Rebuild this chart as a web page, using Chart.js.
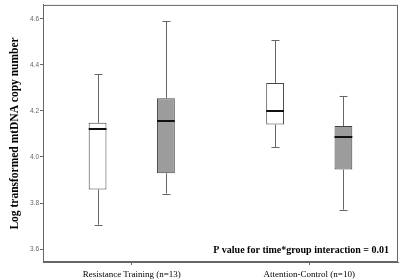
<!DOCTYPE html>
<html>
<head>
<meta charset="utf-8">
<script src="https://cdn.jsdelivr.net/npm/chart.js@4"></script>
<style>
  html, body { margin: 0; padding: 0; background: #fff; }
  #wrap { width: 400px; height: 279px; position: relative; }
</style>
</head>
<body>
<div id="wrap"><canvas id="box"></canvas></div>
<script>
// categories and tick labels
const categories = ['Resistance Training (n=13)', 'Attention-Control (n=10)'];
const yTickValues = [3.6, 3.8, 4.0, 4.2, 4.4, 4.6];

// box values, first series (white boxes)
const preMin = [3.706, 4.043];
const preQ1 = [3.859, 4.141];
const preMedian = [4.121, 4.200];
const preQ3 = [4.148, 4.321];
const preMax = [4.360, 4.507];

// second series (grey boxes)
const postMin = [3.841, 3.771];
const postQ1 = [3.929, 3.945];
const postMedian = [4.156, 4.086];
const postQ3 = [4.255, 4.134];
const postMax = [4.590, 4.265];

const noteText = 'P value for time*group interaction = 0.01';

const stats = [
    { min: preMin, med: preMedian, max: preMax },
    { min: postMin, med: postMedian, max: postMax }
];

// whiskers, medians, frame, note
const boxExtras = {
    id: 'boxExtras',
    afterDatasetsDraw(chart) {
        const { ctx, chartArea, scales } = chart;
        const y = scales.y;
        ctx.save();
        stats.forEach((s, di) => {
            const meta = chart.getDatasetMeta(di);
            meta.data.forEach((bar, i) => {
                const x = Math.round(bar.x) + 0.5;
                const half = bar.width / 2;
                const ds = chart.data.datasets[di].data[i];
                const yLo = y.getPixelForValue(ds[0]);
                const yHi = y.getPixelForValue(ds[1]);
                const yMin = y.getPixelForValue(s.min[i]);
                const yMax = y.getPixelForValue(s.max[i]);
                ctx.strokeStyle = '#666';
                ctx.lineWidth = 1;
                ctx.beginPath();
                ctx.moveTo(x, yHi); ctx.lineTo(x, yMax);
                ctx.moveTo(x, yLo); ctx.lineTo(x, yMin);
                ctx.moveTo(x - 4, Math.round(yMax) + 0.5); ctx.lineTo(x + 4, Math.round(yMax) + 0.5);
                ctx.moveTo(x - 4, Math.round(yMin) + 0.5); ctx.lineTo(x + 4, Math.round(yMin) + 0.5);
                ctx.stroke();
                const yMed = Math.round(y.getPixelForValue(s.med[i]));
                ctx.strokeStyle = '#111';
                ctx.lineWidth = 2;
                ctx.beginPath();
                ctx.moveTo(bar.x - half, yMed); ctx.lineTo(bar.x + half, yMed);
                ctx.stroke();
            });
        });
        ctx.strokeStyle = '#666';
        ctx.lineWidth = 1;
        ctx.strokeRect(chartArea.left + 0.5, chartArea.top + 0.5,
            chartArea.right - chartArea.left - 1, chartArea.bottom - chartArea.top - 1);
        ctx.fillStyle = '#000';
        ctx.font = 'bold 10px "Liberation Serif"';
        ctx.textAlign = 'right';
        ctx.textBaseline = 'middle';
        ctx.fillText(noteText, chartArea.right - 9, chartArea.bottom - 12);
        ctx.restore();
    }
};

new Chart(document.getElementById('box'), {
    type: 'bar',
    data: {
        labels: categories,
        datasets: [{
            label: 'Baseline',
            data: categories.map((c, i) => [preQ1[i], preQ3[i]]),
            backgroundColor: '#ffffff',
            borderColor: '#444',
            borderWidth: 1,
            borderSkipped: false,
            categoryPercentage: 0.77,
            barPercentage: 0.26
        }, {
            label: 'Follow-up',
            data: categories.map((c, i) => [postQ1[i], postQ3[i]]),
            backgroundColor: '#9c9c9c',
            borderColor: '#444',
            borderWidth: 1,
            borderSkipped: false,
            categoryPercentage: 0.77,
            barPercentage: 0.26
        }]
    },
    options: {
        responsive: true,
        maintainAspectRatio: false,
        animation: false,
        layout: { padding: { top: 1, right: 2, left: 0, bottom: 0 } },
        plugins: {
            legend: { display: false },
            tooltip: { enabled: false }
        },
        scales: {
            x: {
                grid: { display: true, drawOnChartArea: false, offset: false, tickLength: 3, color: '#666' },
                border: { color: '#666' },
                ticks: { color: '#000', font: { family: 'Liberation Serif', size: 9 }, padding: 4, maxRotation: 0 },
                afterFit: (s) => { s.height = 17; }
            },
            y: {
                min: 3.544,
                max: 4.66,
                afterBuildTicks: (s) => { s.ticks = yTickValues.map(v => ({ value: v })); },
                grid: { display: true, drawOnChartArea: false, tickLength: 3, color: '#666' },
                border: { color: '#666' },
                ticks: {
                    color: '#666',
                    font: { family: 'Liberation Sans', size: 6.5 },
                    padding: 1,
                    callback: (v) => Number(v).toFixed(1)
                },
                title: {
                    display: true,
                    text: 'Log transformed mtDNA copy number',
                    color: '#000',
                    font: { family: 'Liberation Serif', size: 11.5, weight: 'bold' },
                    padding: { top: 8, bottom: 4 }
                },
                afterFit: (s) => { s.width = 43; }
            }
        }
    },
    plugins: [boxExtras]
});
</script>
</body>
</html>
